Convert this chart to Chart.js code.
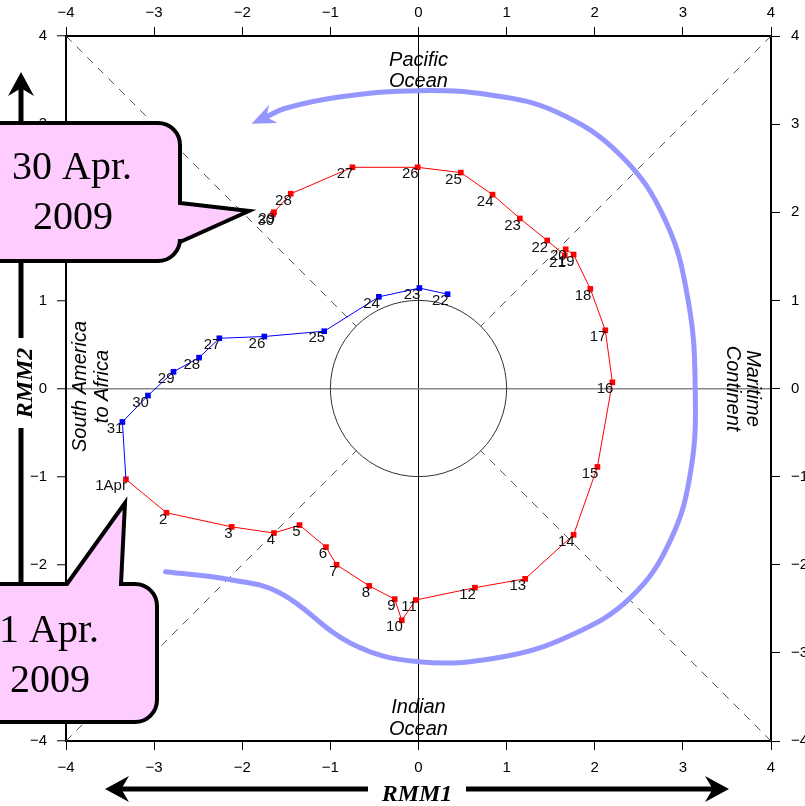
<!DOCTYPE html>
<html>
<head>
<meta charset="utf-8">
<script src="https://cdn.jsdelivr.net/npm/chart.js@4.4.1/dist/chart.umd.min.js"></script>
<style>
  html, body { margin: 0; padding: 0; background: #fff; }
  #wrap { width: 805px; height: 806px; }
</style>
</head>
<body>
<div id="wrap"><canvas id="mjo" width="805" height="806"></canvas></div>
<script>
// RMM index, 22-31 March 2009 (blue) then 1-30 April 2009 (red)
var marchDays = ['22', '23', '24', '25', '26', '27', '28', '29', '30', '31'];
var marchRmm1 = [0.33, 0.01, -0.45, -1.07, -1.75, -2.26, -2.49, -2.78, -3.07, -3.36];
var marchRmm2 = [1.07, 1.14, 1.04, 0.65, 0.59, 0.57, 0.35, 0.19, -0.08, -0.38];

var aprilDays = ['1Apr', '2', '3', '4', '5', '6', '7', '8', '9', '10',
                 '11', '12', '13', '14', '15', '16', '17', '18', '19', '20',
                 '21', '22', '23', '24', '25', '26', '27', '28', '29', '30'];
var aprilRmm1 = [-3.32, -2.86, -2.12, -1.64, -1.35, -1.05, -0.93, -0.56, -0.27, -0.19,
                 -0.03, 0.64, 1.21, 1.76, 2.03, 2.20, 2.12, 1.95, 1.76, 1.67,
                 1.66, 1.46, 1.15, 0.84, 0.48, -0.01, -0.75, -1.45, -1.64, -1.65];
var aprilRmm2 = [-1.03, -1.41, -1.57, -1.64, -1.55, -1.80, -2.00, -2.24, -2.39, -2.63,
                 -2.40, -2.26, -2.16, -1.66, -0.89, 0.07, 0.66, 1.13, 1.52, 1.58,
                 1.51, 1.68, 1.93, 2.20, 2.45, 2.51, 2.51, 2.21, 2.00, 1.98];

// hand drawn eastward propagation arrow
var arrowRmm1 = [-2.87, -2.13, -1.57, -0.77, 0.00, 0.93, 1.73, 2.41, 2.86, 3.09, 3.14, 3.06, 2.80, 2.29, 1.56, 0.82, 0.00, -0.88, -1.51, -1.75];
var arrowRmm2 = [-2.08, -2.17, -2.32, -2.89, -3.10, -3.05, -2.80, -2.37, -1.72, -0.93, 0.00, 1.00, 1.91, 2.65, 3.14, 3.33, 3.38, 3.31, 3.18, 3.07];

var tickValues = [-4, -3, -2, -1, 0, 1, 2, 3, 4];

var SANS = '"Liberation Sans", Arial, Helvetica, sans-serif';
var SERIF = '"Liberation Serif", "Times New Roman", serif';

function fmtTick(v) {
    return v < 0 ? '\u2212' + Math.abs(v) : String(v);
}

function pts(xs, ys) {
    return xs.map(function(x, i) { return { x: x, y: ys[i] }; });
}

function makeAxis(pos, size, pad, zeroColor, zeroWidth) {
    var horiz = (pos === 'top' || pos === 'bottom');
    return {
        type: 'linear',
        position: pos,
        min: -4,
        max: 4,
        afterBuildTicks: function(s) {
            s.ticks = tickValues.map(function(v) { return { value: v }; });
        },
        afterFit: function(s) {
            if (horiz) s.height = size; else s.width = size;
        },
        ticks: {
            callback: fmtTick,
            color: '#000',
            padding: pad,
            font: { family: SANS, size: 15 }
        },
        grid: {
            drawOnChartArea: !!zeroColor,
            color: function(c) {
                return (zeroColor && c.tick && c.tick.value === 0) ? zeroColor : 'rgba(0,0,0,0)';
            },
            lineWidth: zeroWidth || 1,
            tickColor: '#000',
            tickWidth: 1,
            tickLength: 9
        },
        border: { display: true, color: '#000', width: 2 }
    };
}

function arrowHead(ctx, tx, ty, dx, dy, len, half) {
    var n = Math.hypot(dx, dy);
    dx /= n; dy /= n;
    var px = -dy, py = dx;
    var bx = tx - dx * len, by = ty - dy * len;
    ctx.beginPath();
    ctx.moveTo(tx, ty);
    ctx.lineTo(bx + px * half, by + py * half);
    ctx.lineTo(tx - dx * len * 0.68, ty - dy * len * 0.68);
    ctx.lineTo(bx - px * half, by - py * half);
    ctx.closePath();
    ctx.fill();
}

// phase diagram background: unit circle, dashed diagonals, region names
var backdrop = {
    id: 'backdrop',
    beforeDatasetsDraw: function(chart) {
        var ctx = chart.ctx, sx = chart.scales.x, sy = chart.scales.y;
        var cx = sx.getPixelForValue(0), cy = sy.getPixelForValue(0);
        var r = sx.getPixelForValue(1) - cx;
        ctx.save();
        ctx.strokeStyle = '#333';
        ctx.lineWidth = 1;
        ctx.beginPath();
        ctx.arc(cx, cy, r, 0, Math.PI * 2);
        ctx.stroke();

        ctx.strokeStyle = '#555';
        ctx.setLineDash([8, 7]);
        var d = Math.SQRT1_2;
        [[-1, 1], [1, 1], [1, -1], [-1, -1]].forEach(function(s) {
            ctx.beginPath();
            ctx.moveTo(sx.getPixelForValue(4 * s[0]), sy.getPixelForValue(4 * s[1]));
            ctx.lineTo(sx.getPixelForValue(d * s[0]), sy.getPixelForValue(d * s[1]));
            ctx.stroke();
        });
        ctx.setLineDash([]);

        ctx.fillStyle = '#000';
        ctx.font = 'italic 20px ' + SANS;
        ctx.textAlign = 'center';
        ctx.textBaseline = 'middle';
        var top = chart.chartArea.top, bottom = chart.chartArea.bottom;
        ctx.fillText('Pacific', cx, top + 24);
        ctx.fillText('Ocean', cx, top + 45);
        ctx.fillText('Indian', cx, bottom - 34);
        ctx.fillText('Ocean', cx, bottom - 12);

        ctx.save();
        ctx.translate(chart.chartArea.right - 18, cy);
        ctx.rotate(Math.PI / 2);
        ctx.fillText('Maritime', 0, 0);
        ctx.fillText('Continent', 0, 20);
        ctx.restore();

        ctx.save();
        ctx.translate(chart.chartArea.left + 14, cy - 2);
        ctx.rotate(-Math.PI / 2);
        ctx.fillText('South America', 0, 0);
        ctx.fillText('to Africa', 0, 22);
        ctx.restore();
        ctx.restore();
    },
    afterDatasetsDraw: function(chart) {
        var ctx = chart.ctx;
        // arrowhead on the propagation arrow
        var am = chart.getDatasetMeta(0).data;
        var last = am[am.length - 1];
        var prev = (last.cp1x !== undefined) ? { x: last.cp1x, y: last.cp1y } : am[am.length - 2];
        ctx.save();
        ctx.fillStyle = 'rgba(150,150,255,1)';
        var dx = last.x - prev.x, dy = last.y - prev.y, n = Math.hypot(dx, dy);
        arrowHead(ctx, last.x + dx / n * 14, last.y + dy / n * 14, dx, dy, 24, 10);

        // day labels
        ctx.fillStyle = '#111';
        ctx.font = '15px ' + SANS;
        ctx.textAlign = 'right';
        ctx.textBaseline = 'middle';
        [[1, marchDays], [2, aprilDays]].forEach(function(p) {
            var meta = chart.getDatasetMeta(p[0]).data;
            p[1].forEach(function(t, i) {
                ctx.fillText(t, meta[i].x + 1, meta[i].y + 7);
            });
        });
        ctx.restore();
    },
    afterDraw: function(chart) {
        var ctx = chart.ctx;
        ctx.save();
        // RMM1 / RMM2 axis arrows
        ctx.strokeStyle = '#000';
        ctx.fillStyle = '#000';
        ctx.lineWidth = 5;
        ctx.beginPath();
        ctx.moveTo(120, 789); ctx.lineTo(368, 789);
        ctx.moveTo(466, 789); ctx.lineTo(714, 789);
        ctx.moveTo(21, 87); ctx.lineTo(21, 338);
        ctx.moveTo(21, 428); ctx.lineTo(21, 690);
        ctx.stroke();
        arrowHead(ctx, 105, 789, -1, 0, 24, 13);
        arrowHead(ctx, 729, 789, 1, 0, 24, 13);
        arrowHead(ctx, 21, 72, 0, -1, 24, 13);
        arrowHead(ctx, 21, 705, 0, 1, 24, 13);
        ctx.font = 'italic bold 24px ' + SERIF;
        ctx.textAlign = 'center';
        ctx.textBaseline = 'middle';
        ctx.fillText('RMM1', 417, 795);
        ctx.save();
        ctx.translate(26, 383);
        ctx.rotate(-Math.PI / 2);
        ctx.fillText('RMM2', 0, 0);
        ctx.restore();

        // callouts
        ctx.lineWidth = 4;
        ctx.lineJoin = 'miter';
        ctx.fillStyle = '#ffccff';
        var r = 22;
        // 30 Apr, pointer to the right
        ctx.beginPath();
        ctx.moveTo(-20, 123);
        ctx.lineTo(180 - r, 123);
        ctx.arcTo(180, 123, 180, 123 + r, r);
        ctx.lineTo(180, 203);
        ctx.lineTo(249, 211);
        ctx.lineTo(180, 242);
        ctx.lineTo(180, 261 - r);
        ctx.arcTo(180, 261, 180 - r, 261, r);
        ctx.lineTo(-20, 261);
        ctx.closePath();
        ctx.fill();
        ctx.stroke();
        // 1 Apr, pointer upward
        ctx.beginPath();
        ctx.moveTo(-20, 584);
        ctx.lineTo(67, 584);
        ctx.lineTo(125, 503);
        ctx.lineTo(121, 584);
        ctx.lineTo(157 - r, 584);
        ctx.arcTo(157, 584, 157, 584 + r, r);
        ctx.lineTo(157, 722 - r);
        ctx.arcTo(157, 722, 157 - r, 722, r);
        ctx.lineTo(-20, 722);
        ctx.closePath();
        ctx.fill();
        ctx.stroke();

        ctx.fillStyle = '#000';
        ctx.font = '40px ' + SERIF;
        ctx.fillText('30 Apr.', 72, 168);
        ctx.fillText('2009', 73, 218);
        ctx.fillText('1 Apr.', 49, 631);
        ctx.fillText('2009', 50, 681);
        ctx.restore();
    }
};

var marchLine = pts(marchRmm1, marchRmm2).concat([{ x: aprilRmm1[0], y: aprilRmm2[0] }]);

new Chart(document.getElementById('mjo').getContext('2d'), {
    type: 'scatter',
    data: {
        datasets: [
            {
                label: 'propagation',
                data: pts(arrowRmm1, arrowRmm2),
                showLine: true,
                tension: 0.4,
                borderColor: 'rgba(150,150,255,1)',
                borderWidth: 5,
                pointRadius: 0,
                borderCapStyle: 'round'
            },
            {
                label: 'March 2009',
                data: marchLine,
                showLine: true,
                borderColor: '#0000ff',
                borderWidth: 1,
                backgroundColor: '#0000ff',
                pointStyle: 'rect',
                pointBorderWidth: 0,
                pointRadius: function(c) { return c.dataIndex < marchDays.length ? 4 : 0; }
            },
            {
                label: 'April 2009',
                data: pts(aprilRmm1, aprilRmm2),
                showLine: true,
                borderColor: '#ff0000',
                borderWidth: 1,
                backgroundColor: '#ff0000',
                pointStyle: 'rect',
                pointBorderWidth: 0,
                pointRadius: 4
            }
        ]
    },
    options: {
        responsive: false,
        animation: false,
        layout: { padding: 0 },
        plugins: {
            legend: { display: false },
            tooltip: { enabled: false }
        },
        scales: {
            x: makeAxis('bottom', 65, 9, '#000', 1),
            x2: makeAxis('top', 36, 5),
            y: makeAxis('left', 66, 10, '#888', 1.5),
            y2: makeAxis('right', 34, 11)
        }
    },
    plugins: [backdrop]
});
</script>
</body>
</html>
